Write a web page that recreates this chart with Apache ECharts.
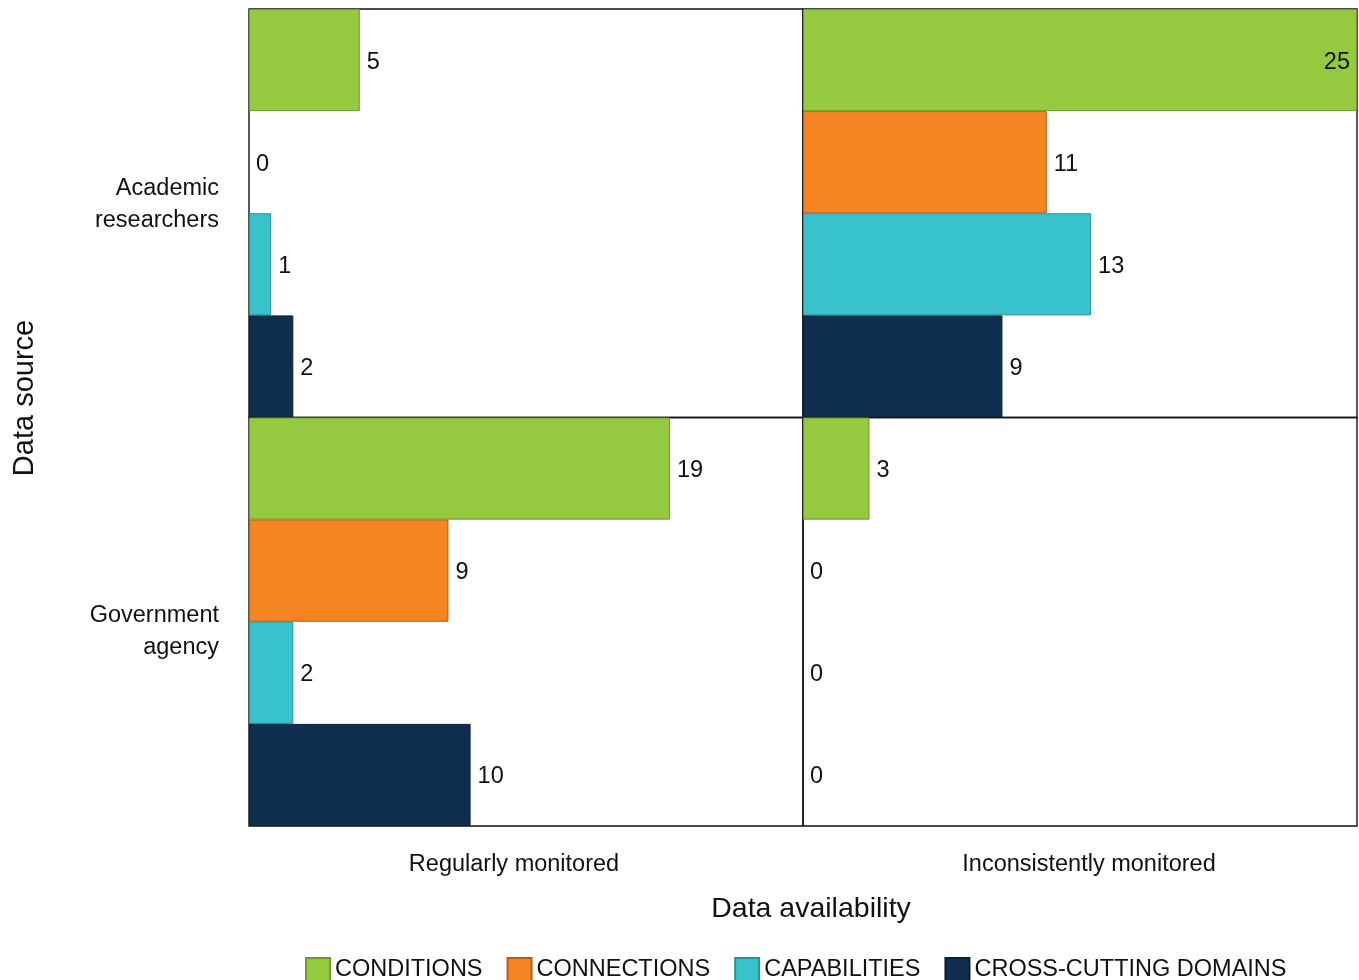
<!DOCTYPE html>
<html>
<head>
<meta charset="utf-8">
<style>
  html, body { margin: 0; padding: 0; background: #fff; }
  #chart { width: 1359px; height: 980px; }
</style>
<script src="https://cdn.jsdelivr.net/npm/echarts@6/dist/echarts.min.js"></script>
</head>
<body>
<div id="chart"></div>
<script>
// Categories
const sources = ['Academic researchers', 'Government agency'];
const availability = ['Regularly monitored', 'Inconsistently monitored'];
const domains = ['CONDITIONS', 'CONNECTIONS', 'CAPABILITIES', 'CROSS-CUTTING DOMAINS'];

// Counts per domain: [source][availability] -> one value per domain
const academicRegular = [5, 0, 1, 2];
const academicInconsistent = [25, 11, 13, 9];
const governmentRegular = [19, 9, 2, 10];
const governmentInconsistent = [3, 0, 0, 0];

const axisMax = 25;

const colors = ['#95C93F', '#F58422', '#38C2CC', '#0F2E50'];
const borders = ['#6E9A2C', '#B55F14', '#2A9199', '#0A1F36'];

const panels = [
  [academicRegular, academicInconsistent],
  [governmentRegular, governmentInconsistent]
];

const FONT = 'Liberation Sans, Arial, sans-serif';
const plotLeft = 249, plotTop = 9, cellW = 554, cellH = 408.5;

// Row labels: a spacer line nudges the top label up and the bottom one down
const rowLabelFormat = [
  v => '{a|' + v.split(' ')[0] + '}\n{a|' + v.split(' ')[1] + '}\n{s| }',
  v => '{t| }\n{a|' + v.split(' ')[0] + '}\n{a|' + v.split(' ')[1] + '}'
];

const grids = [], xAxes = [], yAxes = [], series = [];
panels.forEach((row, r) => {
  row.forEach((vals, c) => {
    const idx = grids.length;
    grids.push({
      left: plotLeft + c * cellW,
      top: plotTop + r * cellH,
      width: cellW,
      height: cellH,
      show: true,
      borderColor: '#111',
      borderWidth: 1.4,
      backgroundColor: 'transparent'
    });
    xAxes.push({
      gridIndex: idx,
      type: 'value',
      min: 0,
      max: axisMax,
      axisLine: { show: false },
      axisTick: { show: false },
      axisLabel: { show: false },
      splitLine: { show: false }
    });
    yAxes.push({
      gridIndex: idx,
      type: 'category',
      inverse: true,
      data: [sources[r]],
      axisLine: { show: false },
      axisTick: { show: false },
      axisLabel: {
        show: c === 0,
        margin: 30,
        align: 'right',
        formatter: rowLabelFormat[r],
        rich: {
          a: { fontFamily: FONT, fontSize: 23.5, color: '#111', lineHeight: 32, align: 'right' },
          s: { fontSize: 10, lineHeight: 17 },
          t: { fontSize: 10, lineHeight: 20 }
        }
      }
    });
    domains.forEach((d, k) => {
      const v = vals[k];
      const atMax = v >= axisMax;
      series.push({
        name: d,
        type: 'bar',
        xAxisIndex: idx,
        yAxisIndex: idx,
        barGap: '0%',
        barCategoryGap: '0%',
        itemStyle: { color: colors[k], borderColor: borders[k], borderWidth: 1 },
        label: {
          show: true,
          position: atMax ? 'insideRight' : 'right',
          distance: 7,
          offset: [0, 2],
          fontFamily: FONT,
          fontSize: 23.5,
          color: '#111'
        },
        data: [{ value: v, itemStyle: v === 0 ? { borderWidth: 0 } : {} }],
        animation: false
      });
    });
  });
});

const chart = echarts.init(document.getElementById('chart'), null, { renderer: 'canvas' });
chart.setOption({
  backgroundColor: '#fff',
  animation: false,
  grid: grids,
  xAxis: xAxes,
  yAxis: yAxes,
  series: series,
  legend: {
    data: domains,
    top: 952,
    left: 300,
    itemWidth: 24,
    itemHeight: 24,
    itemGap: 24,
    icon: 'rect',
    textStyle: { fontFamily: FONT, fontSize: 23.5, color: '#111' }
  },
  graphic: [
    {
      type: 'text',
      x: 514,
      y: 865,
      style: { text: availability[0], font: '23.5px ' + FONT, fill: '#111', align: 'center', verticalAlign: 'middle' }
    },
    {
      type: 'text',
      x: 1089,
      y: 865,
      style: { text: availability[1], font: '23.5px ' + FONT, fill: '#111', align: 'center', verticalAlign: 'middle' }
    },
    {
      type: 'text',
      x: 811,
      y: 909,
      style: { text: 'Data availability', font: '28.5px ' + FONT, fill: '#111', align: 'center', verticalAlign: 'middle' }
    },
    {
      type: 'text',
      x: 25,
      y: 398,
      rotation: Math.PI / 2,
      style: { text: 'Data source', font: '29px ' + FONT, fill: '#111', align: 'center', verticalAlign: 'middle' }
    }
  ]
});
</script>
</body>
</html>
